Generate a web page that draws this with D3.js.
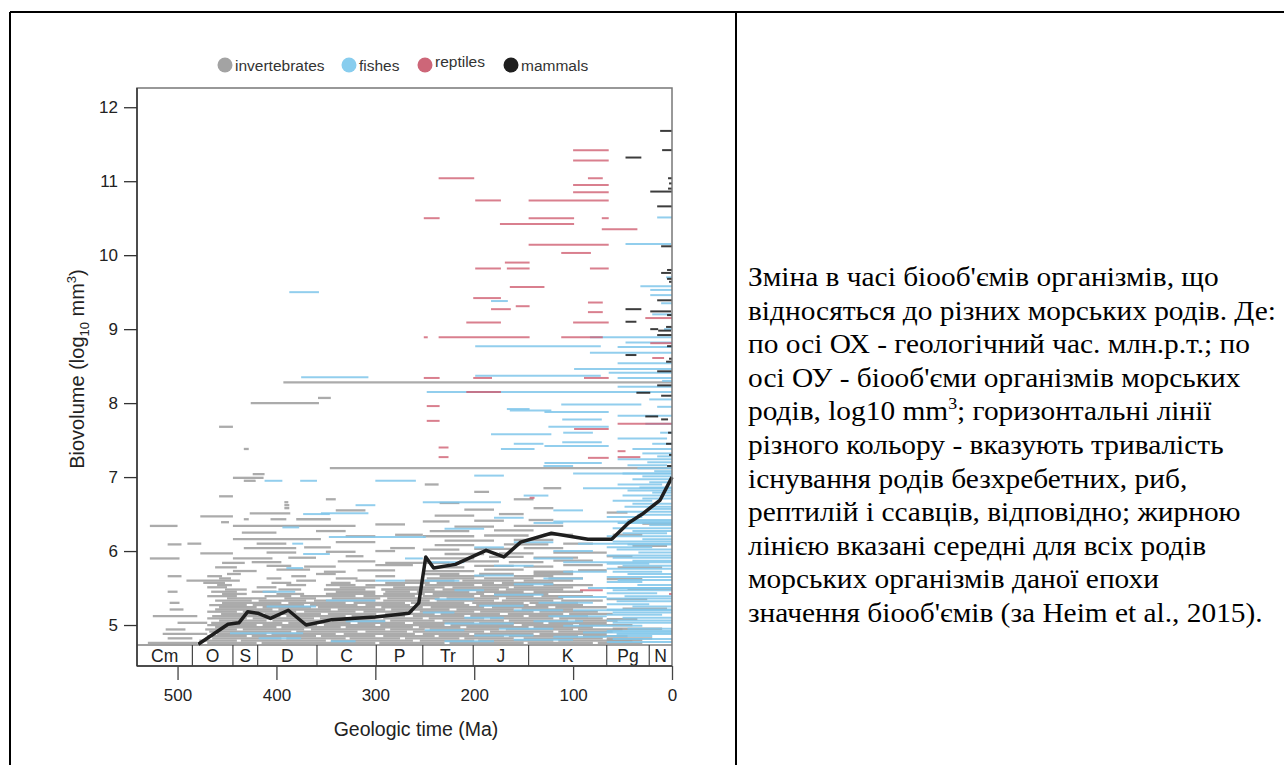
<!DOCTYPE html>
<html>
<head>
<meta charset="utf-8">
<script src="https://cdn.jsdelivr.net/npm/d3@7"></script>
<style>
  body { margin: 0; background: #fff; }
  svg text { font-family: "Liberation Sans", Arial, Helvetica, sans-serif; }
</style>
</head>
<body>
<svg id="chart" width="1284" height="765"></svg>
<script>
// ---- data (Ma start, Ma end, log10 biovolume) ----
// dense band of invertebrate genera, one row per level: [level, [[start, end], ...]]
const invertRows = [
  [4.76, [[530,480],[470,420],[415,300],[296,230],[225,150],[146,80],[75,30]]],
  [4.79, [[478,440],[436,350],[345,262],[255,200],[196,120],[115,40]]],
  [4.82, [[510,485],[465,395],[390,330],[326,275],[270,215],[210,160],[150,70],[66,20]]],
  [4.85, [[470,430],[425,360],[355,300],[292,240],[236,170],[165,95],[90,45]]],
  [4.88, [[515,470],[460,410],[405,340],[332,260],[252,205],[200,140],[134,66]]],
  [4.91, [[468,385],[380,318],[310,268],[262,190],[184,120],[115,60]]],
  [4.94, [[512,492],[472,440],[434,372],[365,290],[285,250],[245,175],[168,100],[95,50]]],
  [4.97, [[462,400],[395,335],[330,262],[256,214],[208,145],[140,80]]],
  [5.00, [[470,420],[414,359],[352,300],[295,230],[224,160],[152,100],[94,40]]],
  [5.03, [[500,470],[466,394],[388,325],[318,270],[262,200],[195,130],[125,66]]],
  [5.06, [[458,410],[404,350],[344,290],[285,240],[232,170],[165,105],[98,55]]],
  [5.09, [[470,430],[424,362],[356,300],[292,252],[246,190],[184,120],[114,70]]],
  [5.12, [[525,480],[465,396],[390,330],[324,270],[262,210],[204,150],[145,85]]],
  [5.15, [[456,418],[412,355],[348,299],[290,240],[234,174],[166,110],[104,60]]],
  [5.18, [[470,440],[434,380],[372,320],[312,262],[255,200],[194,140],[134,75]]],
  [5.21, [[508,494],[462,404],[398,345],[338,290],[284,225],[218,160],[152,100]]],
  [5.24, [[458,420],[414,365],[358,300],[294,252],[244,190],[182,125],[118,66]]],
  [5.27, [[468,430],[424,372],[366,318],[310,265],[258,205],[198,145],[138,90]]],
  [5.30, [[508,498],[455,395],[388,330],[322,270],[264,210],[202,150],[144,95]]],
  [5.33, [[462,425],[418,370],[362,300],[292,245],[238,180],[172,120],[112,70]]],
  [5.36, [[450,410],[392,360],[344,295],[288,235],[228,175],[168,110]]],
  [5.39, [[470,440],[412,385],[376,320],[312,260],[252,200],[194,140],[132,80]]],
  [5.42, [[455,430],[400,372],[350,300],[292,250],[242,190],[180,125]]],
  [5.45, [[510,500],[466,440],[425,400],[340,300],[290,265],[258,205],[198,150],[140,90]]],
  [5.48, [[452,430],[398,375],[352,310],[294,240],[232,175],[168,110]]],
  [5.51, [[470,450],[420,400],[336,300],[282,230],[222,165],[160,100]]],
  [5.54, [[460,445],[390,370],[350,320],[310,270],[250,200],[192,140],[130,80]]],
  [5.57, [[474,452],[405,385],[345,325],[290,245],[238,180],[172,120]]],
  [5.60, [[491,437],[380,360],[320,300],[270,220],[212,160],[150,100]]],
  [5.63, [[458,446],[410,395],[340,318],[248,200],[190,140],[125,90]]],
  [5.66, [[510,496],[470,455],[385,370],[300,280],[235,190],[160,120]]],
  [5.69, [[450,436],[360,340],[250,215],[195,160],[140,100]]]
];

// scattered invertebrate genera above the dense band
const invertSparse = [
  [444,420,5.73],[400,366,5.75],[352,330,5.72],[318,280,5.74],[462,440,5.78],[410,385,5.8],
  [372,340,5.79],[300,262,5.81],[455,432,5.84],[425,395,5.85],[338,300,5.86],[290,252,5.84],
  [528,498,5.9],[444,404,5.9],[388,360,5.91],[330,312,5.93],[477,444,5.97],[410,380,5.98],
  [350,320,5.99],[300,280,6.0],[433,380,6.04],[372,345,6.05],[285,260,6.04],[510,496,6.09],
  [490,476,6.1],[420,390,6.1],[340,300,6.12],[444,355,6.16],[330,300,6.2],[280,252,6.22],
  [435,400,6.25],[360,330,6.27],[528,500,6.34],[444,320,6.34],[300,270,6.36],[456,448,6.39],
  [406,390,6.43],[380,345,6.43],[433,428,6.43],[477,444,6.47],[427,386,6.51],[340,310,6.55],
  [392,387,6.58],[392,387,6.62],[392,388,6.66],[458,444,6.74],[350,340,6.7],[433,421,6.95],
  [444,413,6.99],[424,412,7.04],[433,428,7.38],[458,444,7.68],[426,357,8.0],[358,345,8.07],
  [393,0,8.28],[346,0,7.12],
  [250,200,5.73],[190,150,5.75],[140,100,5.72],[95,66,5.74],[240,210,5.78],[200,160,5.8],
  [150,120,5.79],[110,70,5.81],[252,225,5.84],[215,175,5.86],[165,130,5.85],[120,80,5.87],
  [245,200,5.9],[185,150,5.92],[140,95,5.91],[230,190,5.96],[175,140,5.97],[120,66,5.98],
  [252,215,6.02],[200,160,6.03],[150,110,6.04],[240,200,6.08],[170,125,6.09],[110,80,6.1],
  [230,180,6.14],[160,120,6.15],[252,200,6.2],[190,145,6.21],[130,100,6.22],[245,205,6.27],
  [180,140,6.28],[220,180,6.33],[160,110,6.34],[252,225,6.4],[200,170,6.41],[145,120,6.42],
  [240,200,6.48],[175,150,6.5],[210,180,6.56],[140,120,6.58],[235,215,6.65],[160,140,6.7],
  [200,185,6.8],[130,112,6.85],[250,236,6.9],
  [66,30,4.8],[60,10,4.95],[66,35,5.08],[50,5,5.22],[66,25,5.35],[45,0,5.49],[66,30,5.62],
  [55,10,5.78],[66,40,5.93],[40,5,6.07],[60,30,6.22],[30,0,6.37],[66,45,6.52]
];

const fishes = [
  // Palaeozoic
  [447,373,4.89],[418,375,4.82],[414,381,5.45],[390,373,5.77],[373,346,5.96],[384,373,6.1],
  [394,377,6.32],[373,346,6.5],[412,394,6.95],[376,359,6.95],[387,357,9.5],[410,360,5.25],
  [350,300,5.33],[330,290,5.05],[345,320,4.78],[300,270,5.6],[355,307,6.51],[347,249,6.19],
  [300,259,6.95],[375,307,8.35],[320,300,6.62],[270,252,5.9],
  // Mesozoic
  [252,173,6.66],[248,0,8.15],[199,72,8.77],[199,72,8.37],[167,144,7.92],[164,122,7.9],
  [183,166,9.38],[183,122,7.58],[112,31,7.98],[129,64,7.88],[111,71,7.78],[125,64,7.68],
  [111,71,7.47],[129,64,7.42],[173,139,7.38],[129,71,7.19],[100,0,7.05],[90,0,6.85],
  [120,0,6.4],[95,0,6.1],[110,0,5.85],[85,0,5.5],[100,0,5.2],[90,0,4.9],
  [230,180,4.78],[160,100,4.8],[200,140,4.86],[120,66,4.84],[250,210,4.93],[175,120,4.95],
  [110,66,4.99],[230,160,5.02],[140,90,5.05],[210,170,5.1],[125,66,5.12],[252,220,5.17],
  [160,110,5.2],[195,150,5.26],[135,80,5.3],[240,200,5.35],[115,66,5.38],[180,130,5.41],
  [220,190,5.47],[160,120,5.55],[250,215,5.6],[130,90,5.63],[200,160,5.67],[110,66,5.72],
  [180,140,5.8],[245,210,5.85],[140,100,5.9],[120,80,6.0],[200,170,6.05],[160,120,6.12],
  [230,190,6.3],[140,110,6.38],[180,150,6.45],[120,90,6.55],[150,125,6.75],[200,170,7.02],
  [130,100,7.15],[160,130,7.45],[110,80,7.6],
  // Cenozoic
  [66,0,4.77],[60,0,4.81],[66,20,4.85],[56,0,4.88],[66,0,4.92],[45,0,4.95],[66,30,4.99],
  [60,0,5.03],[66,0,5.06],[50,0,5.1],[66,10,5.14],[60,0,5.17],[66,0,5.21],[40,0,5.25],
  [66,23,5.28],[56,0,5.32],[66,0,5.36],[48,0,5.39],[66,15,5.43],[60,0,5.47],[66,0,5.5],
  [35,0,5.54],[66,30,5.58],[55,0,5.61],[66,0,5.65],[45,0,5.69],[60,10,5.72],[66,0,5.76],
  [50,0,5.8],[66,23,5.83],[40,0,5.87],[60,0,5.91],[66,0,5.94],[34,0,5.98],[56,0,6.02],
  [66,20,6.05],[45,0,6.09],[60,0,6.13],[30,0,6.16],[66,0,6.2],[50,5,6.24],[40,0,6.27],
  [60,0,6.31],[23,0,6.35],[55,0,6.38],[45,0,6.42],[66,30,6.46],[35,0,6.49],[56,0,6.53],
  [25,0,6.57],[48,0,6.6],[40,0,6.64],[60,20,6.68],[30,0,6.71],[50,0,6.75],[20,0,6.79],
  [45,0,6.82],[33,0,6.86],[55,10,6.9],[23,0,6.93],[40,0,6.97],[30,0,7.01],[50,0,7.05],
  [18,0,7.08],[35,0,7.12],[45,5,7.16],[25,0,7.2],[55,0,7.24],[15,0,7.28],[30,0,7.32],
  [40,0,7.38],[20,0,7.45],[55,5,7.52],[12,0,7.6],[27,0,7.72],[55,0,7.83],[15,0,7.95],
  [23,0,8.05],[55,0,8.22],[10,0,8.3],[55,0,8.34],[64,0,8.41],[99,0,8.46],[55,0,8.54],
  [83,0,8.68],[55,0,8.76],[47,0,8.82],[83,0,8.89],[11,0,9.35],[22,0,9.46],[22,0,9.53],
  [32,0,9.58],[47,1,10.15],[15,0,10.51],[8,0,9.0],[6,0,9.7],[20,0,9.2]
];

const reptiles = [
  [100,64,11.42],[100,64,11.28],[236,200,11.04],[85,70,11.04],[100,64,10.95],[100,64,10.85],
  [199,173,10.74],[145,64,10.74],[251,235,10.5],[145,99,10.5],[71,64,10.5],[174,99,10.42],
  [71,35,10.35],[145,64,10.14],[112,82,10.03],[169,144,9.9],[199,173,9.82],[167,144,9.82],
  [83,64,9.82],[164,129,9.57],[201,173,9.42],[85,70,9.36],[158,144,9.31],[183,163,9.27],
  [85,70,9.23],[208,173,9.09],[100,64,9.09],[27,0,9.15],[251,247,8.89],[236,144,8.89],
  [112,70,8.89],[22,0,8.81],[20,8,8.61],[251,235,8.34],[201,182,8.34],[89,64,8.34],
  [208,173,8.15],[248,235,7.96],[248,235,7.76],[99,64,7.65],[55,0,7.72],[236,226,7.4],
  [55,47,7.35],[236,226,7.27],[85,64,7.26],[55,32,7.27],[144,139,6.72],[93,70,5.47],[3,0,5.42]
];

const mammals = [
  [12,0,11.68],[10,0,11.42],[47,31,11.32],[4,0,11.04],[3,0,10.97],[4,0,10.9],[22,0,10.86],
  [15,0,10.66],[11,0,10.12],[5,0,9.8],[11,1,9.76],[5,0,9.68],[3,0,9.64],[15,0,9.39],
  [47,31,9.27],[22,1,9.24],[5,0,9.19],[47,36,9.1],[6,0,9.03],[22,14,9.0],[14,1,8.98],
  [15,0,8.92],[5,0,8.77],[47,36,8.65],[3,0,8.6],[6,0,8.56],[15,0,8.43],[15,0,8.24],
  [36,22,8.14],[11,0,8.1],[27,14,7.82],[11,4,7.78],[4,0,7.6],[6,0,7.45],[3,0,7.3],[5,0,7.15]
];

// mean biovolume of all genera
const meanMa  = [479, 449, 438, 429, 419, 406, 388, 370, 345, 300, 266, 256, 249, 241, 219, 188, 170, 153, 122, 85, 61, 44, 30, 12, 0];
const meanVol = [4.74, 5.01, 5.03, 5.18, 5.16, 5.09, 5.2, 5.0, 5.07, 5.11, 5.16, 5.3, 5.92, 5.77, 5.82, 6.01, 5.92, 6.12, 6.24, 6.16, 6.16, 6.38, 6.5, 6.69, 7.0];

const periodNames  = ["Cm", "O", "S", "D", "C", "P", "Tr", "J", "K", "Pg", "N"];
const periodBounds = [541, 485, 444, 419, 359, 299, 252, 201, 145, 66, 23, 0];

const yTicks = [5, 6, 7, 8, 9, 10, 11, 12];
const xTicks = [500, 400, 300, 200, 100, 0];

const legendNames  = ["invertebrates", "fishes", "reptiles", "mammals"];
const legendColors = ["#a3a3a3", "#88cdee", "#cd6678", "#1f1f1f"];

const captionLines = [
  "Зміна в часі біооб'ємів організмів, що",
  "відносяться до різних морських родів. Де:",
  "по осі ОХ - геологічний час. млн.р.т.; по",
  "осі ОУ - біооб'єми організмів морських",
  "родів, log10 mm|3|; горизонтальні лінії",
  "різного кольору - вказують тривалість",
  "існування родів безхребетних, риб,",
  "рептилій і ссавців, відповідно; жирною",
  "лінією вказані середні для всіх родів",
  "морських організмів даної епохи",
  "значення біооб'ємів (за Heim et al., 2015)."
];

// ---- layout ----
const svg = d3.select("#chart");
const x = d3.scaleLinear().domain([541, 0]).range([137, 672]);
const y = d3.scaleLinear().domain([4.73, 12.26]).range([645, 88]);

// table cell borders
svg.append("line").attr("x1", 10).attr("x2", 1284).attr("y1", 12).attr("y2", 12)
  .attr("stroke", "#000").attr("stroke-width", 2);
svg.append("line").attr("x1", 10).attr("x2", 10).attr("y1", 12).attr("y2", 765)
  .attr("stroke", "#000").attr("stroke-width", 2);
svg.append("line").attr("x1", 736).attr("x2", 736).attr("y1", 12).attr("y2", 765)
  .attr("stroke", "#000").attr("stroke-width", 2);

// genus lines
function drawSegs(data, color, opacity, width) {
  svg.append("g").selectAll("line").data(data).join("line")
    .attr("x1", d => x(d[0])).attr("x2", d => x(d[1]))
    .attr("y1", d => y(d[2])).attr("y2", d => y(d[2]))
    .attr("stroke", color)
    .attr("stroke-opacity", opacity)
    .attr("stroke-width", width);
}

const invertebrates = invertRows
  .flatMap(([v, spans]) => spans.map(([a, b]) => [a, b, v]))
  .concat(invertSparse);

drawSegs(invertebrates, "#a2a2a2", 0.9, 2.3);
drawSegs(fishes, "#7fc5ea", 0.85, 2);
drawSegs(reptiles, "#cf5f72", 0.8, 2);
drawSegs(mammals, "#1a1a1a", 0.85, 2);

// period strip
svg.append("rect").attr("x", x(541)).attr("y", y(4.73))
  .attr("width", x(0) - x(541)).attr("height", 666 - y(4.73)).attr("fill", "#fff");
svg.append("line").attr("x1", x(541)).attr("x2", x(0)).attr("y1", y(4.73)).attr("y2", y(4.73))
  .attr("stroke", "#444").attr("stroke-width", 1.2);
svg.append("g").selectAll("line").data(periodBounds.slice(1, -1)).join("line")
  .attr("x1", d => x(d)).attr("x2", d => x(d))
  .attr("y1", y(4.73)).attr("y2", 666)
  .attr("stroke", "#444").attr("stroke-width", 1.2);
svg.append("g").selectAll("text").data(periodNames).join("text")
  .attr("x", (d, i) => (x(periodBounds[i]) + x(periodBounds[i + 1])) / 2)
  .attr("y", 662)
  .attr("text-anchor", "middle")
  .attr("font-size", 17.5)
  .attr("fill", "#222")
  .text(d => d);

// mean line
svg.append("path")
  .datum(meanMa.map((m, i) => [m, meanVol[i]]))
  .attr("d", d3.line().x(d => x(d[0])).y(d => y(d[1])))
  .attr("fill", "none")
  .attr("stroke", "#1e1e1e")
  .attr("stroke-width", 3.5)
  .attr("stroke-linejoin", "round");

// frame
svg.append("rect").attr("x", 137).attr("y", 88).attr("width", 535).attr("height", 578)
  .attr("fill", "none").attr("stroke", "#777").attr("stroke-width", 1.5);
svg.append("line").attr("x1", 137).attr("x2", 137).attr("y1", 88).attr("y2", 666)
  .attr("stroke", "#333").attr("stroke-width", 1.5);
svg.append("line").attr("x1", 137).attr("x2", 672).attr("y1", 666).attr("y2", 666)
  .attr("stroke", "#333").attr("stroke-width", 1.5);

// axes
const yAxis = svg.append("g")
  .attr("transform", "translate(137,0)")
  .call(d3.axisLeft(y).tickValues(yTicks).tickSize(13).tickPadding(6));
yAxis.select(".domain").remove();
yAxis.selectAll("line").attr("stroke", "#333").attr("stroke-width", 1.3);
yAxis.selectAll("text").attr("font-size", 17).attr("fill", "#222")
  .attr("font-family", "'Liberation Sans', Arial, sans-serif");

const xAxis = svg.append("g")
  .attr("transform", "translate(0,666)")
  .call(d3.axisBottom(x).tickValues(xTicks).tickSize(14).tickPadding(9));
xAxis.select(".domain").remove();
xAxis.selectAll("line").attr("stroke", "#444").attr("stroke-width", 1.3);
xAxis.selectAll("text").attr("font-size", 17).attr("fill", "#222")
  .attr("font-family", "'Liberation Sans', Arial, sans-serif");

svg.append("text").attr("x", 416).attr("y", 736)
  .attr("text-anchor", "middle").attr("font-size", 19.5).attr("fill", "#222")
  .text("Geologic time (Ma)");

const yTitle = svg.append("text")
  .attr("transform", "translate(84,369) rotate(-90)")
  .attr("text-anchor", "middle").attr("font-size", 20).attr("fill", "#222");
yTitle.append("tspan").text("Biovolume (log");
yTitle.append("tspan").attr("dy", 5).attr("font-size", 13).text("10");
yTitle.append("tspan").attr("dy", -5).text(" mm");
yTitle.append("tspan").attr("dy", -8).attr("font-size", 13).text("3");
yTitle.append("tspan").attr("dy", 8).text(")");

// legend
const legendX = [225, 349, 425, 511];
const legend = svg.append("g").selectAll("g").data(legendNames).join("g")
  .attr("transform", (d, i) => `translate(${legendX[i]},65)`);
legend.append("circle").attr("r", 7.5).attr("fill", (d, i) => legendColors[i]);
legend.append("text").attr("x", 10).attr("y", (d, i) => i === 2 ? 2 : 5.5)
  .attr("font-size", 15.5).attr("fill", "#333").text(d => d);

// caption (slightly wide serif, as in the source document)
const caption = svg.append("g")
  .attr("transform", "translate(748,0) scale(1.05,1)")
  .attr("font-size", 28).attr("fill", "#000");
captionLines.forEach((line, i) => {
  const t = caption.append("text").attr("x", 0).attr("y", 286 + i * 33.6)
    .style("font-family", "'Liberation Serif', 'Times New Roman', serif");
  const parts = line.split("|");
  t.append("tspan").text(parts[0]);
  if (parts.length > 1) {
    t.append("tspan").attr("dy", -11).attr("font-size", 17).text(parts[1]);
    t.append("tspan").attr("dy", 11).text(parts[2]);
  }
});
</script>
</body>
</html>
